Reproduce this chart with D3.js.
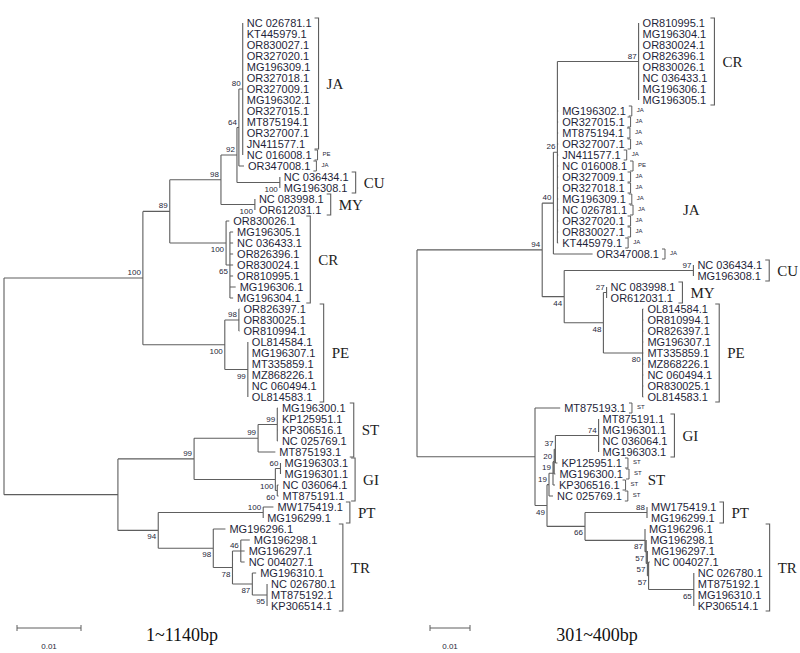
<!DOCTYPE html>
<html>
<head>
<meta charset="utf-8">
<script src="https://cdn.jsdelivr.net/npm/d3@7"></script>
<style>
  body { margin: 0; background: #fff; }
  svg { display: block; }
</style>
</head>
<body>
<svg id="chart" width="800" height="653"></svg>
<script>
// Trees in Newick: internal labels are bootstrap values, lengths are substitutions/site
const newickFull =
  '(((((((NC 026781.1:0,KT445979.1:0,OR830027.1:0,OR327020.1:0,MG196309.1:0,OR327018.1:0,' +
  'OR327009.1:0,MG196302.1:0,OR327015.1:0,MT875194.1:0,OR327007.1:0,JN411577.1:0,NC 016008.1:0)80:0.0006,' +
  'OR347008.1:0.0008)64:0.0003,(NC 036434.1:0,MG196308.1:0)100:0.0067)92:0.0025,' +
  '(NC 083998.1:0,OR612031.1:0)100:0.0053)98:0.0080,' +
  '(OR830026.1:0.0005,(MG196305.1:0.0005,NC 036433.1:0.0005,OR826396.1:0.0005,OR830024.1:0.0005,' +
  'OR810995.1:0.0005,MG196306.1:0.0009,MG196304.1:0.0005)65:0.0006)100:0.0088)89:0.0042,' +
  '((OR826397.1:0.0001,OR830025.1:0.0001,OR810994.1:0.0001)98:0.0022,' +
  '(OL814584.1:0,MG196307.1:0,MT335859.1:0,MZ868226.1:0,NC 060494.1:0,OL814583.1:0)99:0.0036)100:0.0128)100:0.0217,' +
  '((((MG196300.1:0.0001,KP125951.1:0.0001,KP306516.1:0.0001,NC 025769.1:0.0001)99:0.0030,MT875193.1:0.0027)99:0.0100,' +
  '((MG196303.1:0,MG196301.1:0)60:0.0008,(NC 036064.1:0.0002,MT875191.1:0.0002)60:0.0003)100:0.0127)99:0.0119,' +
  '((MW175419.1:0.0016,MG196299.1:0)100:0.0164,' +
  '(MG196296.1:0.0019,((MG196298.1:0.0014,MG196297.1:0.0006,NC 004027.1:0.0006)46:0.0013,' +
  '(MG196310.1:0.0006,(NC 026780.1:0,MT875192.1:0,KP306514.1:0)95:0.0023)87:0.0031)78:0.0030)98:0.0086)94:0.0063):0.0178);';

const newick301 =
  '(((((OR810995.1:0,MG196304.1:0,OR830024.1:0,OR826396.1:0,OR830026.1:0,NC 036433.1:0,MG196306.1:0,MG196305.1:0)87:0.0203,' +
  'MG196302.1:0.0002,OR327015.1:0.0002,MT875194.1:0.0002,OR327007.1:0.0002,JN411577.1:0.0002,NC 016008.1:0.0002,' +
  'OR327009.1:0.0002,OR327018.1:0.0002,MG196309.1:0.0002,NC 026781.1:0.0002,OR327020.1:0.0002,OR830027.1:0.0002,' +
  'KT445979.1:0.0002)26:0.0010,OR347008.1:0.0098)40:0.0028,' +
  '((NC 036434.1:0,MG196308.1:0)97:0.0323,((NC 083998.1:0,OR612031.1:0)27:0.0008,' +
  '(OL814584.1:0.0002,OR810994.1:0.0002,OR826397.1:0.0002,MG196307.1:0.0002,MT335859.1:0.0002,MZ868226.1:0.0002,' +
  'NC 060494.1:0.0002,OR830025.1:0.0002,OL814583.1:0.0002)80:0.0098)48:0.0098)44:0.0055)94:0.0313,' +
  '(MT875193.1:0.0063,((((((MT875191.1:0,MG196301.1:0,NC 036064.1:0,MG196303.1:0)74:0.0108,KP125951.1:0.0005)37:0.0003,' +
  'MG196300.1:0.0003)20:0.0003,KP306516.1:0.0005)19:0.0010,NC 025769.1:0.0010)19:0.0005,' +
  '((MW175419.1:0,MG196299.1:0)88:0.0155,(MG196296.1:0,(MG196298.1:0,(MG196297.1:0,(NC 004027.1:0.0003,' +
  '(NC 026780.1:0,MT875192.1:0,MG196310.1:0,KP306514.1:0)65:0.0113)57:0.0003)57:0.0003)57:0.0003)87:0.0150)66:0.0095)49:0.0030):0.0295);';

// [group, first leaf, last leaf]
const cladesFull = [
  ['JA', 'NC 026781.1', 'JN411577.1'],
  ['CU', 'NC 036434.1', 'MG196308.1'],
  ['MY', 'NC 083998.1', 'OR612031.1'],
  ['CR', 'OR830026.1', 'MG196304.1'],
  ['PE', 'OR826397.1', 'OL814583.1'],
  ['ST', 'MG196300.1', 'MT875193.1'],
  ['GI', 'MG196303.1', 'MT875191.1'],
  ['PT', 'MW175419.1', 'MG196299.1'],
  ['TR', 'MG196296.1', 'KP306514.1']
];
const tagsFull = [['NC 016008.1', 'PE'], ['OR347008.1', 'JA']];

const clades301 = [
  ['CR', 'OR810995.1', 'MG196305.1'],
  ['CU', 'NC 036434.1', 'MG196308.1'],
  ['MY', 'NC 083998.1', 'OR612031.1'],
  ['PE', 'OL814584.1', 'OL814583.1'],
  ['GI', 'MT875191.1', 'MG196303.1'],
  ['PT', 'MW175419.1', 'MG196299.1'],
  ['TR', 'MG196296.1', 'KP306514.1']
];
const tags301 = [
  ['MG196302.1', 'JA'], ['OR327015.1', 'JA'], ['MT875194.1', 'JA'], ['OR327007.1', 'JA'],
  ['JN411577.1', 'JA'], ['NC 016008.1', 'PE'], ['OR327009.1', 'JA'], ['OR327018.1', 'JA'],
  ['MG196309.1', 'JA'], ['NC 026781.1', 'JA'], ['OR327020.1', 'JA'], ['OR830027.1', 'JA'],
  ['KT445979.1', 'JA'], ['OR347008.1', 'JA'], ['MT875193.1', 'ST'],
  ['KP125951.1', 'ST'], ['MG196300.1', 'ST'], ['KP306516.1', 'ST'], ['NC 025769.1', 'ST']
];
// group names written beside the small tags, no bracket
const loose301 = [['JA', 'NC 016008.1', 'OR347008.1'], ['ST', 'KP125951.1', 'NC 025769.1']];

const titles = ['1~1140bp', '301~400bp'];
const scaleValue = 0.01;

const SANS = '"Liberation Sans", Arial, sans-serif';
const SERIF = '"Liberation Serif", "Times New Roman", serif';
const LINE = '#5e5e5e';
const INK = '#1f1f3a';

function parseNewick(s) {
  let i = 0;
  function node() {
    const n = { children: [] };
    if (s[i] === '(') {
      i++;
      n.children.push(node());
      while (s[i] === ',') { i++; n.children.push(node()); }
      i++; // closing paren
    }
    let label = '';
    while (i < s.length && !',():;'.includes(s[i])) label += s[i++];
    n.length = 0;
    if (s[i] === ':') {
      i++;
      let len = '';
      while (i < s.length && !',();'.includes(s[i])) len += s[i++];
      n.length = +len;
    }
    if (n.children.length) n.support = label.trim();
    else { n.name = label.trim(); delete n.children; }
    return n;
  }
  return node();
}

const svg = d3.select('#chart');

function drawTree(newick, opt) {
  const g = svg.append('g');
  const root = d3.hierarchy(parseNewick(newick));
  const x = d3.scaleLinear().domain([0, scaleValue]).range([opt.rootX, opt.rootX + opt.unitPx]);
  const leaves = root.leaves();
  const y = d3.scaleLinear().domain([0, leaves.length - 1]).range([23, 606]);

  root.eachBefore((d) => { d.dist = d.parent ? d.parent.dist + d.data.length : 0; });
  leaves.forEach((d, i) => { d.py = y(i); });
  root.eachAfter((d) => {
    if (d.children) d.py = (d.children[0].py + d.children[d.children.length - 1].py) / 2;
  });
  root.each((d) => { d.px = x(d.dist); });

  // branches
  const p = d3.path();
  root.descendants().forEach((d) => {
    if (d.parent) { p.moveTo(d.parent.px, d.py); p.lineTo(d.px, d.py); }
    if (d.children) {
      p.moveTo(d.px, d.children[0].py);
      p.lineTo(d.px, d.children[d.children.length - 1].py);
    }
  });
  g.append('path').attr('d', p.toString())
    .attr('fill', 'none').attr('stroke', LINE).attr('stroke-width', 1.1);

  // bootstrap values
  g.selectAll('.support')
    .data(root.descendants().filter((d) => d.parent && d.children && d.data.support))
    .join('text')
    .attr('class', 'support')
    .attr('x', (d) => d.px - 2)
    .attr('y', (d) => (d.parent.children[0] === d ? d.py - 3 : d.py + 9))
    .attr('text-anchor', 'end')
    .attr('font-family', SANS).attr('font-size', 8).attr('fill', INK)
    .text((d) => d.data.support);

  // leaf names
  const byName = {};
  g.selectAll('.leaf')
    .data(leaves)
    .join('text')
    .attr('class', 'leaf')
    .attr('x', (d) => d.px + 4)
    .attr('y', (d) => d.py)
    .attr('dy', '0.36em')
    .attr('font-family', SANS).attr('font-size', 11).attr('fill', INK)
    .text((d) => d.data.name)
    .each(function (d) {
      byName[d.data.name] = { y: d.py, end: d.px + 4 + this.getComputedTextLength(), tagEnd: 0 };
    });

  const span = (a, b) => {
    const i0 = leaves.findIndex((d) => d.data.name === a);
    const i1 = leaves.findIndex((d) => d.data.name === b);
    return leaves.slice(i0, i1 + 1).map((d) => byName[d.data.name]);
  };

  // small per-leaf tags
  (opt.tags || []).forEach(([name, tag]) => {
    const r = byName[name];
    const bx = r.end + 6;
    g.append('path')
      .attr('d', `M${bx - 3},${r.y - 5}H${bx}V${r.y + 5}H${bx - 3}`)
      .attr('fill', 'none').attr('stroke', LINE).attr('stroke-width', 1);
    const t = g.append('text')
      .attr('x', bx + 5).attr('y', r.y).attr('dy', '0.1em')
      .attr('font-family', SANS).attr('font-size', 6).attr('fill', INK)
      .text(tag);
    r.tagEnd = bx + 5 + t.node().getComputedTextLength();
  });

  // clade brackets
  opt.clades.forEach(([label, a, b]) => {
    const rows = span(a, b);
    const bx = d3.max(rows, (r) => r.end) + 7;
    const top = rows[0].y - 5;
    const bot = rows[rows.length - 1].y + 5;
    g.append('path')
      .attr('d', `M${bx - 4},${top}H${bx}V${bot}H${bx - 4}`)
      .attr('fill', 'none').attr('stroke', LINE).attr('stroke-width', 1.1);
    g.append('text')
      .attr('x', bx + 8).attr('y', (top + bot) / 2).attr('dy', '0.35em')
      .attr('font-family', SERIF).attr('font-size', 15).attr('fill', '#222')
      .text(label);
  });

  (opt.loose || []).forEach(([label, a, b]) => {
    const rows = span(a, b);
    g.append('text')
      .attr('x', d3.max(rows, (r) => r.tagEnd) + 6)
      .attr('y', (rows[0].y + rows[rows.length - 1].y) / 2).attr('dy', '0.35em')
      .attr('font-family', SERIF).attr('font-size', 15).attr('fill', '#222')
      .text(label);
  });

  // scale bar
  const sb = g.append('g');
  const x0 = opt.barX;
  const x1 = opt.barX + (x(scaleValue) - x(0));
  sb.append('path')
    .attr('d', `M${x0},625V631M${x0},628H${x1}M${x1},625V631`)
    .attr('fill', 'none').attr('stroke', LINE).attr('stroke-width', 1);
  sb.append('text')
    .attr('x', (x0 + x1) / 2).attr('y', 649)
    .attr('text-anchor', 'middle')
    .attr('font-family', SANS).attr('font-size', 8).attr('fill', INK)
    .text(scaleValue);

  g.append('text')
    .attr('x', opt.titleX).attr('y', 641)
    .attr('text-anchor', 'middle')
    .attr('font-family', SERIF).attr('font-size', 18).attr('fill', '#111')
    .text(opt.title);
}

drawTree(newickFull, {
  rootX: 4, unitPx: 64, clades: cladesFull, tags: tagsFull,
  barX: 17, titleX: 182, title: titles[0]
});
drawTree(newick301, {
  rootX: 417, unitPx: 40, clades: clades301, tags: tags301, loose: loose301,
  barX: 430, titleX: 597, title: titles[1]
});
</script>
</body>
</html>
